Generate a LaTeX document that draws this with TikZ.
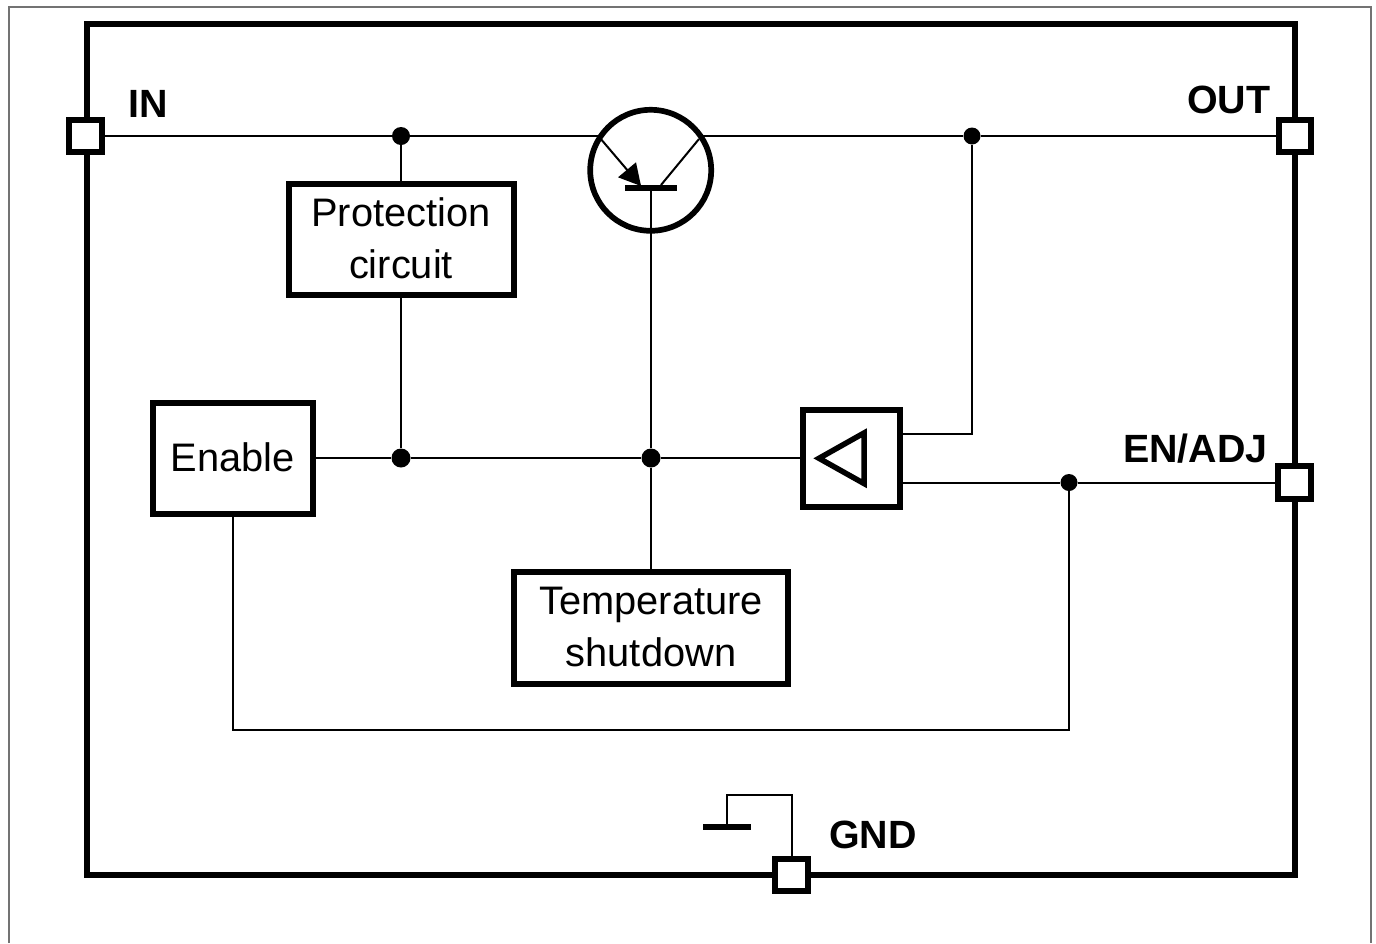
\documentclass[tikz,border=0pt]{standalone}
\usepackage{fontspec}
\setmainfont{Liberation Sans}
\newcommand{\upt}[1]{\raisebox{1pt}[\height][\depth]{#1}}
\begin{document}
\begin{tikzpicture}[x=1pt,y=-1pt,
  wire/.style={line width=2pt,black},
  block/.style={draw=black,line width=6pt,fill=white,inner sep=0pt,outer sep=3pt,align=center,font=\fontsize{39.8}{52}\selectfont},
  port/.style={draw=black,line width=6pt,fill=white,minimum size=32.5pt,inner sep=0pt,outer sep=3pt},
  dot/.style={circle,fill=black,inner sep=0pt,minimum size=#1},
  lbl/.style={anchor=base west,inner sep=0pt,font=\fontsize{39.4}{46}\selectfont\bfseries}]
\useasboundingbox (0,0) rectangle (1376,943);
\fill[white] (0,0) rectangle (1376,943);
\draw[line width=2pt,black!55] (8.5,943) -- (8.5,6.5) -- (1371,6.5) -- (1371,943);
\draw[line width=5.8pt,black,line join=miter] (87,24) rectangle (1295,875);

% ports
\node[port] (in) at (85.5,136) {};
\node[port] (out) at (1295,136) {};
\node[port] (en) at (1294.5,482.5) {};
\node[port] (gnd) at (791.5,875) {};

% blocks
\node[block,minimum width=225pt,minimum height=111pt] (prot) at (401,239) {\upt{Protection}\\\upt{circuit}};
\node[block,minimum width=160pt,minimum height=111pt] (enable) at (232.5,458) {\upt{Enable}};
\node[block,minimum width=274pt,minimum height=112pt] (temp) at (651,627.5) {\upt{Temperature}\\\upt{shutdown}};
\node[block,minimum width=97pt,minimum height=97pt] (amp) at (851.7,458) {};
\draw[line width=5.5pt,black,line join=miter] (864,433) -- (819,458.3) -- (864,483.5) -- cycle;

% transistor
\node[circle,draw=black,line width=5.7pt,minimum size=121pt,inner sep=0pt,outer sep=2.85pt] (q) at (650.7,170.3) {};
\node[fill=black,inner sep=0pt,minimum width=52pt,minimum height=5.7pt] (bar) at (651,188) {};
\coordinate (qe) at (600,138);
\coordinate (qc) at (699,139);
\coordinate (qei) at (600.5,136);
\coordinate (qci) at (700.5,136);
\coordinate (qbe) at (640,185);
\coordinate (qbc) at (661,185);
\draw[wire] (qe) -- (qbe);
\draw[wire] (qc) -- (qbc);
\fill[black] (641,186) -- (636,162.3) -- (618,177.3) -- cycle;

% junctions
\node[dot=18pt] (j1) at (401,136) {};
\node[dot=17pt] (j2) at (972,136) {};
\node[dot=19pt] (j3) at (401,458) {};
\node[dot=19pt] (j4) at (651,458) {};
\node[dot=17pt] (j5) at (1069,482.5) {};

% wires
\draw[wire] (in.east) -- (j1) -- (qei);
\draw[wire] (qci) -- (j2) -- (out.west);
\draw[wire] (j1) -- (prot.north);
\draw[wire] (prot.south) -- (j3);
\draw[wire] (enable.east) -- (j3) -- (j4) -- (amp.west);
\draw[wire] (bar.south) -- (j4) -- (temp.north);
\coordinate (ampo1) at (amp.east |- 0,434);
\coordinate (ampo2) at (amp.east |- 0,482.5);
\draw[wire] (ampo1) -| (j2);
\draw[wire] (ampo2) -- (j5) -- (en.west);
\draw[wire] (enable.south) |- (1069,730) -- (j5);

% ground
\node[fill=black,inner sep=0pt,minimum width=48pt,minimum height=6pt] (gbar) at (727,827) {};
\draw[wire] (gbar.north) |- (791.5,794.5) -- (gnd.north);

% labels
\node[lbl] (lin) at (128,117.5) {IN};
\node[lbl] (lout) at (1187,113.5) {OUT};
\node[lbl] (len) at (1123,462.5) {EN/ADJ};
\node[lbl] (lgnd) at (829,848.5) {GND};
\end{tikzpicture}
\end{document}
